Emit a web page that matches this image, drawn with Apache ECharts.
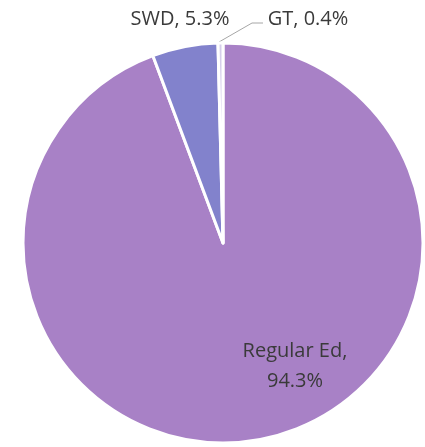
<!DOCTYPE html>
<html>
<head>
<meta charset="utf-8">
<script src="https://cdn.jsdelivr.net/npm/echarts@6/dist/echarts.min.js"></script>
<style>html,body{margin:0;padding:0;background:#fff;}#c{width:425px;height:447px;}</style>
</head>
<body>
<div id="c"></div>
<script>
const categories = ['Regular Ed', 'SWD', 'GT'];
const values = [94.3, 5.3, 0.4];
const colors = ['#A881C6', '#8282CC', '#D6CFEA'];

const chart = echarts.init(document.getElementById('c'), null, {renderer: 'canvas'});
const data = categories.map((n, i) => ({name: n, value: values[i], itemStyle: {color: colors[i]}}));

chart.setOption({
  animation: false,
  series: [{
    type: 'pie',
    center: [223, 243],
    radius: [0, 200],
    startAngle: 90,
    clockwise: true,
    data: data,
    itemStyle: {borderColor: '#fff', borderWidth: 3},
    label: {
      show: true,
      formatter: p => p.dataIndex === 0 ? p.name + ',\n' + p.value.toFixed(1) + '%' : p.name + ', ' + p.value.toFixed(1) + '%',
      fontFamily: 'Open Sans',
      fontSize: 20,
      color: '#3A3A3A',
      lineHeight: 30,
      overflow: 'none',
      width: 200
    },
    labelLine: {show: true, lineStyle: {color: '#A6A6A6', width: 1}},
    labelLayout: function (p) {
      if (p.dataIndex === 0) {
        return {x: 295, y: 366, align: 'center', verticalAlign: 'middle'};
      }
      if (p.dataIndex === 1) {
        return {x: 180, y: 19, align: 'center', verticalAlign: 'middle', labelLinePoints: [[180,19],[180,19],[180,19]]};
      }
      return {x: 308, y: 19, align: 'center', verticalAlign: 'middle', labelLinePoints: [[219, 42], [252, 23], [263, 23]]};
    }
  }]
});
</script>
</body>
</html>
